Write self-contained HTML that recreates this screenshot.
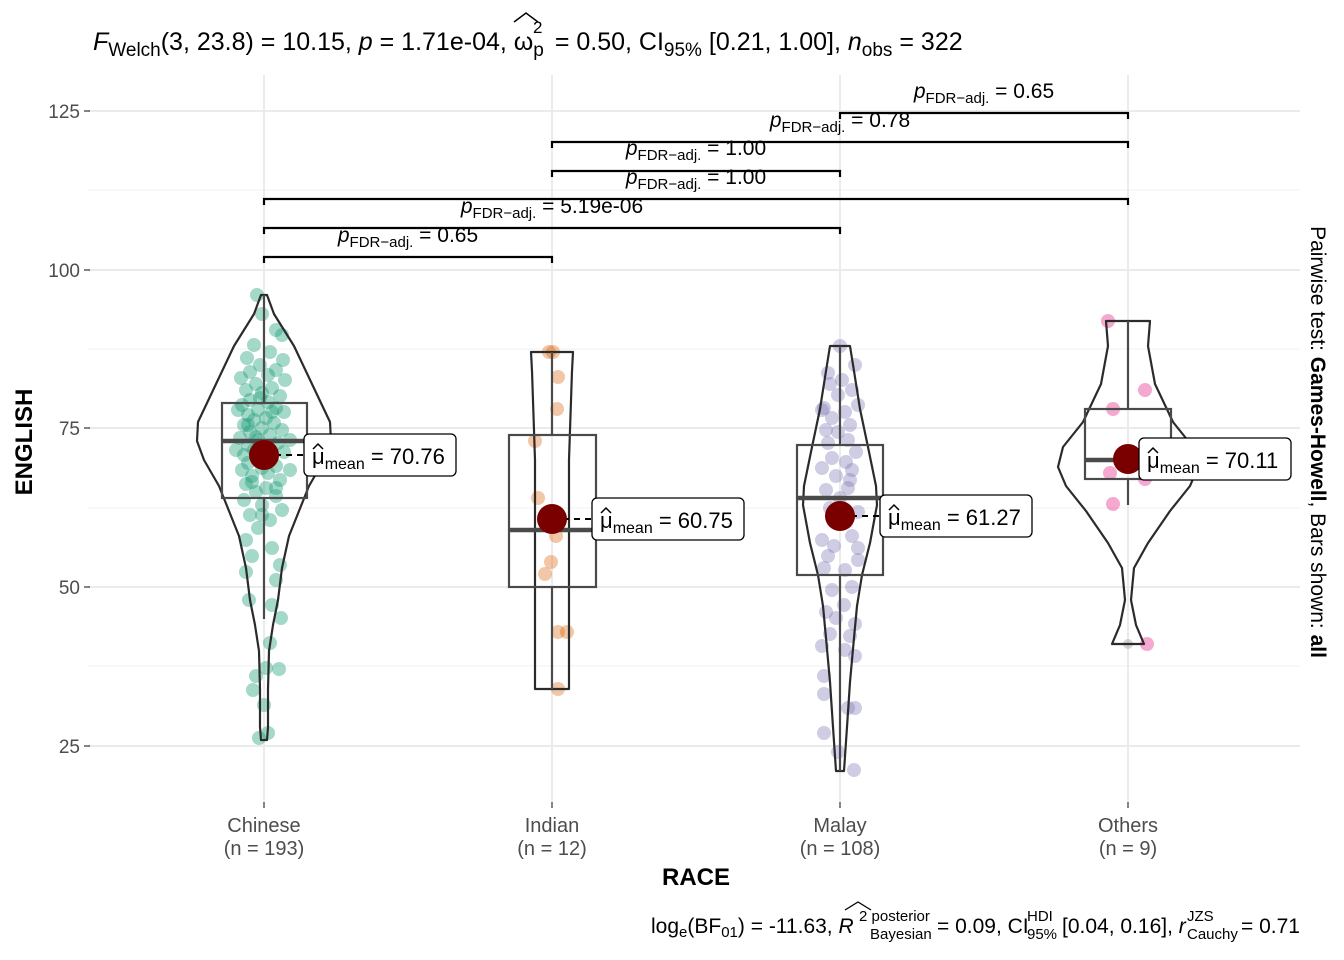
<!DOCTYPE html>
<html><head><meta charset="utf-8"><style>
body{margin:0;background:#fff;}
svg{display:block;font-family:"Liberation Sans",Arial,sans-serif;}
</style></head><body>
<svg width="1344" height="960" xmlns="http://www.w3.org/2000/svg">
<rect width="1344" height="960" fill="#fff"/>
<g stroke="#f0f0f0" stroke-width="1">
<line x1="88" x2="1300" y1="190" y2="190"/><line x1="88" x2="1300" y1="349" y2="349"/><line x1="88" x2="1300" y1="508" y2="508"/><line x1="88" x2="1300" y1="666" y2="666"/>
</g>
<g stroke="#ebebeb" stroke-width="2">
<line x1="88" x2="1300" y1="111" y2="111"/><line x1="88" x2="1300" y1="270" y2="270"/><line x1="88" x2="1300" y1="428" y2="428"/><line x1="88" x2="1300" y1="587" y2="587"/><line x1="88" x2="1300" y1="746" y2="746"/>
<line x1="264" x2="264" y1="75" y2="802"/><line x1="552" x2="552" y1="75" y2="802"/><line x1="840" x2="840" y1="75" y2="802"/><line x1="1128" x2="1128" y1="75" y2="802"/>
</g>
<!-- points -->
<g fill="#1B9E77" fill-opacity="0.4">
<circle cx="257" cy="295" r="7"/><circle cx="262" cy="314" r="7"/><circle cx="276" cy="330" r="7"/><circle cx="282" cy="335" r="7"/><circle cx="254" cy="345" r="7"/><circle cx="270" cy="352" r="7"/><circle cx="247" cy="358" r="7"/><circle cx="283" cy="360" r="7"/><circle cx="260" cy="365" r="7"/><circle cx="276" cy="370" r="7"/><circle cx="250" cy="372" r="7"/><circle cx="268" cy="375" r="7"/><circle cx="241" cy="378" r="7"/><circle cx="285" cy="380" r="7"/><circle cx="256" cy="384" r="7"/><circle cx="272" cy="388" r="7"/><circle cx="246" cy="390" r="7"/><circle cx="262" cy="393" r="7"/><circle cx="280" cy="396" r="7"/><circle cx="250" cy="400" r="7"/><circle cx="268" cy="402" r="7"/><circle cx="242" cy="405" r="7"/><circle cx="276" cy="408" r="7"/><circle cx="258" cy="410" r="7"/><circle cx="284" cy="412" r="7"/><circle cx="248" cy="415" r="7"/><circle cx="266" cy="418" r="7"/><circle cx="254" cy="420" r="7"/><circle cx="274" cy="423" r="7"/><circle cx="244" cy="425" r="7"/><circle cx="262" cy="428" r="7"/><circle cx="282" cy="430" r="7"/><circle cx="250" cy="432" r="7"/><circle cx="270" cy="435" r="7"/><circle cx="240" cy="438" r="7"/><circle cx="258" cy="440" r="7"/><circle cx="278" cy="443" r="7"/><circle cx="248" cy="445" r="7"/><circle cx="266" cy="448" r="7"/><circle cx="254" cy="450" r="7"/><circle cx="284" cy="452" r="7"/><circle cx="244" cy="455" r="7"/><circle cx="272" cy="458" r="7"/><circle cx="258" cy="460" r="7"/><circle cx="248" cy="463" r="7"/><circle cx="276" cy="466" r="7"/><circle cx="262" cy="468" r="7"/><circle cx="242" cy="470" r="7"/><circle cx="268" cy="473" r="7"/><circle cx="252" cy="476" r="7"/><circle cx="280" cy="480" r="7"/><circle cx="246" cy="484" r="7"/><circle cx="266" cy="488" r="7"/><circle cx="256" cy="492" r="7"/><circle cx="276" cy="496" r="7"/><circle cx="244" cy="500" r="7"/><circle cx="262" cy="505" r="7"/><circle cx="282" cy="510" r="7"/><circle cx="250" cy="515" r="7"/><circle cx="270" cy="520" r="7"/><circle cx="258" cy="528" r="7"/><circle cx="246" cy="540" r="7"/><circle cx="272" cy="548" r="7"/><circle cx="252" cy="556" r="7"/><circle cx="280" cy="565" r="7"/><circle cx="246" cy="572" r="7"/><circle cx="276" cy="580" r="7"/><circle cx="249" cy="600" r="7"/><circle cx="272" cy="605" r="7"/><circle cx="281" cy="618" r="7"/><circle cx="270" cy="643" r="7"/><circle cx="266" cy="668" r="7"/><circle cx="279" cy="669" r="7"/><circle cx="256" cy="676" r="7"/><circle cx="253" cy="690" r="7"/><circle cx="264" cy="705" r="7"/><circle cx="268" cy="733" r="7"/><circle cx="259" cy="738" r="7"/><circle cx="236" cy="450" r="7"/><circle cx="290" cy="470" r="7"/><circle cx="238" cy="410" r="7"/><circle cx="290" cy="440" r="7"/>
<circle cx="256" cy="437" r="7"/><circle cx="272" cy="412" r="7"/><circle cx="252" cy="482" r="7"/><circle cx="268" cy="462" r="7"/><circle cx="260" cy="398" r="7"/><circle cx="248" cy="425" r="7"/><circle cx="276" cy="488" r="7"/><circle cx="262" cy="515" r="7"/>
</g>
<g fill="#D95F02" fill-opacity="0.35">
<circle cx="549" cy="352" r="7"/><circle cx="553" cy="352" r="7"/><circle cx="558" cy="377" r="7"/><circle cx="557" cy="409" r="7"/><circle cx="535" cy="441" r="7"/><circle cx="538" cy="498" r="7"/><circle cx="555" cy="517" r="7"/><circle cx="556" cy="536" r="7"/><circle cx="551" cy="562" r="7"/><circle cx="545" cy="574" r="7"/><circle cx="558" cy="632" r="7"/><circle cx="567" cy="632" r="7"/><circle cx="558" cy="689" r="7"/>
</g>
<g fill="#7570B3" fill-opacity="0.35">
<circle cx="840" cy="346" r="7"/><circle cx="855" cy="365" r="7"/><circle cx="828" cy="373" r="7"/><circle cx="830" cy="384" r="7"/><circle cx="852" cy="390" r="7"/><circle cx="838" cy="395" r="7"/><circle cx="824" cy="408" r="7"/><circle cx="858" cy="405" r="7"/><circle cx="845" cy="412" r="7"/><circle cx="832" cy="418" r="7"/><circle cx="822" cy="410" r="7"/><circle cx="850" cy="425" r="7"/><circle cx="838" cy="432" r="7"/><circle cx="828" cy="443" r="7"/><circle cx="848" cy="440" r="7"/><circle cx="856" cy="452" r="7"/><circle cx="832" cy="458" r="7"/><circle cx="846" cy="462" r="7"/><circle cx="822" cy="468" r="7"/><circle cx="852" cy="470" r="7"/><circle cx="836" cy="476" r="7"/><circle cx="826" cy="490" r="7"/><circle cx="848" cy="488" r="7"/><circle cx="840" cy="498" r="7"/><circle cx="830" cy="508" r="7"/><circle cx="858" cy="512" r="7"/><circle cx="846" cy="522" r="7"/><circle cx="822" cy="540" r="7"/><circle cx="834" cy="546" r="7"/><circle cx="852" cy="536" r="7"/><circle cx="858" cy="548" r="7"/><circle cx="828" cy="556" r="7"/><circle cx="858" cy="560" r="7"/><circle cx="824" cy="568" r="7"/><circle cx="845" cy="570" r="7"/><circle cx="832" cy="590" r="7"/><circle cx="852" cy="587" r="7"/><circle cx="826" cy="612" r="7"/><circle cx="844" cy="605" r="7"/><circle cx="836" cy="618" r="7"/><circle cx="855" cy="624" r="7"/><circle cx="830" cy="634" r="7"/><circle cx="850" cy="636" r="7"/><circle cx="822" cy="646" r="7"/><circle cx="845" cy="650" r="7"/><circle cx="855" cy="656" r="7"/><circle cx="824" cy="676" r="7"/><circle cx="824" cy="694" r="7"/><circle cx="848" cy="708" r="7"/><circle cx="855" cy="708" r="7"/><circle cx="824" cy="733" r="7"/><circle cx="838" cy="752" r="7"/><circle cx="854" cy="770" r="7"/><circle cx="842" cy="380" r="7"/><circle cx="826" cy="430" r="7"/><circle cx="850" cy="480" r="7"/><circle cx="836" cy="520" r="7"/>
</g>
<g fill="#E7298A" fill-opacity="0.4">
<circle cx="1108" cy="321" r="7"/><circle cx="1145" cy="390" r="7"/><circle cx="1113" cy="409" r="7"/><circle cx="1130" cy="460" r="7"/><circle cx="1110" cy="473" r="7"/><circle cx="1145" cy="479" r="7"/><circle cx="1113" cy="504" r="7"/><circle cx="1147" cy="644" r="7"/>
</g>
<circle cx="1128" cy="644" r="5" fill="#999" fill-opacity="0.4"/>
<!-- violins -->
<g fill="none" stroke="#2b2b2b" stroke-width="2.2" stroke-linejoin="round">
<polygon points="261,295 254,314 234,346 216,384 198,422 197,441 204,460 219,486 229,511 239,536 246,568 250,600 255,625 259,651 260,689 260,727 261,740 267,740 268,727 268,689 269,651 273,625 278,600 282,568 289,536 299,511 309,486 324,460 331,441 330,422 312,384 294,346 274,314 267,295"/>
<polygon points="531,352 532,371 535,460 535,587 535,689 569,689 569,587 569,460 572,371 573,352"/>
<polygon points="830,346 826,371 820,409 812,447 804,486 803,505 810,543 818,575 823,606 826,638 830,682 833,727 836,771 844,771 847,727 850,682 854,638 857,606 862,575 870,543 877,505 876,486 868,447 860,409 854,371 850,346"/>
<polygon points="1106,321 1108,346 1101,384 1083,422 1063,447 1058,467 1066,486 1086,511 1108,543 1122,568 1125,600 1120,625 1112,644 1144,644 1136,625 1131,600 1134,568 1148,543 1170,511 1190,486 1198,467 1193,447 1173,422 1155,384 1148,346 1150,321"/>
</g>
<!-- boxes -->
<g stroke="#4a4a4a" stroke-width="2.2" fill="none">
<line x1="264" x2="264" y1="403" y2="295"/><line x1="264" x2="264" y1="498" y2="619"/><rect x="222" y="403" width="85" height="95"/>
<line x1="552" x2="552" y1="435" y2="352"/><line x1="552" x2="552" y1="587" y2="689"/><rect x="509" y="435" width="87" height="152"/>
<line x1="840" x2="840" y1="445" y2="346"/><line x1="840" x2="840" y1="575" y2="771"/><rect x="797" y="445" width="86" height="130"/>
<line x1="1128" x2="1128" y1="409" y2="321"/><line x1="1128" x2="1128" y1="479" y2="505"/><rect x="1085" y="409" width="86" height="70"/>
</g>
<g stroke="#4a4a4a" stroke-width="4.5">
<line x1="222" x2="307" y1="441" y2="441"/><line x1="509" x2="596" y1="530" y2="530"/><line x1="797" x2="883" y1="498" y2="498"/><line x1="1085" x2="1171" y1="460" y2="460"/>
</g>
<!-- means -->
<g stroke="#000" stroke-width="2" stroke-dasharray="6,5">
<line x1="264" x2="306" y1="455" y2="455"/><line x1="552" x2="594" y1="519" y2="519"/><line x1="840" x2="882" y1="516" y2="516"/><line x1="1128" x2="1170" y1="459" y2="459"/>
</g>
<g fill="#7a0000">
<circle cx="264" cy="455" r="15"/><circle cx="552" cy="519" r="15"/><circle cx="840" cy="516" r="15"/><circle cx="1128" cy="459" r="15"/>
</g>
<g fill="#fff" stroke="#000" stroke-width="1.3">
<rect x="304" y="434" width="152" height="42" rx="5"/><rect x="592" y="498" width="152" height="42" rx="5"/><rect x="880" y="495" width="152" height="42" rx="5"/><rect x="1139" y="438" width="152" height="42" rx="5"/>
</g>
<g font-size="22">
<text x="312" y="464">μ<tspan font-size="16" dy="5">mean</tspan><tspan dy="-5"> = 70.76</tspan></text>
<text x="600" y="528">μ<tspan font-size="16" dy="5">mean</tspan><tspan dy="-5"> = 60.75</tspan></text>
<text x="888" y="525">μ<tspan font-size="16" dy="5">mean</tspan><tspan dy="-5"> = 61.27</tspan></text>
<text x="1147" y="468">μ<tspan font-size="16" dy="5">mean</tspan><tspan dy="-5"> = 70.11</tspan></text>
</g>
<g fill="none" stroke="#000" stroke-width="1.5">
<path d="M313,449 l5,-5 l5,5"/><path d="M601,513 l5,-5 l5,5"/><path d="M889,510 l5,-5 l5,5"/><path d="M1148,453 l5,-5 l5,5"/>
</g>
<!-- brackets -->
<g fill="none" stroke="#000" stroke-width="2.2">
<path d="M264,263V257H552V263"/><path d="M264,234V228H840V234"/><path d="M264,205V199H1128V205"/><path d="M552,177V171H840V177"/><path d="M552,148V142H1128V148"/><path d="M840,119V113H1128V119"/>
</g>
<g font-size="21" text-anchor="middle">
<text x="408" y="242"><tspan font-style="italic">p</tspan><tspan font-size="15" dy="5">FDR−adj.</tspan><tspan dy="-5"> = 0.65</tspan></text>
<text x="552" y="213"><tspan font-style="italic">p</tspan><tspan font-size="15" dy="5">FDR−adj.</tspan><tspan dy="-5"> = 5.19e-06</tspan></text>
<text x="696" y="184"><tspan font-style="italic">p</tspan><tspan font-size="15" dy="5">FDR−adj.</tspan><tspan dy="-5"> = 1.00</tspan></text>
<text x="696" y="155"><tspan font-style="italic">p</tspan><tspan font-size="15" dy="5">FDR−adj.</tspan><tspan dy="-5"> = 1.00</tspan></text>
<text x="840" y="127"><tspan font-style="italic">p</tspan><tspan font-size="15" dy="5">FDR−adj.</tspan><tspan dy="-5"> = 0.78</tspan></text>
<text x="984" y="98"><tspan font-style="italic">p</tspan><tspan font-size="15" dy="5">FDR−adj.</tspan><tspan dy="-5"> = 0.65</tspan></text>
</g>
<!-- axes -->
<g fill="#4d4d4d" font-size="19" text-anchor="end">
<text x="80" y="118">125</text><text x="80" y="277">100</text><text x="80" y="435">75</text><text x="80" y="594">50</text><text x="80" y="753">25</text>
</g>
<g stroke="#333" stroke-width="1.2">
<line x1="84" x2="90" y1="111" y2="111"/><line x1="84" x2="90" y1="270" y2="270"/><line x1="84" x2="90" y1="428" y2="428"/><line x1="84" x2="90" y1="587" y2="587"/><line x1="84" x2="90" y1="746" y2="746"/>
<line x1="264" x2="264" y1="802" y2="808"/><line x1="552" x2="552" y1="802" y2="808"/><line x1="840" x2="840" y1="802" y2="808"/><line x1="1128" x2="1128" y1="802" y2="808"/>
</g>
<g fill="#4d4d4d" font-size="20" text-anchor="middle">
<text x="264" y="832">Chinese</text><text x="264" y="855">(n = 193)</text>
<text x="552" y="832">Indian</text><text x="552" y="855">(n = 12)</text>
<text x="840" y="832">Malay</text><text x="840" y="855">(n = 108)</text>
<text x="1128" y="832">Others</text><text x="1128" y="855">(n = 9)</text>
</g>
<text x="696" y="885" text-anchor="middle" font-size="24" font-weight="bold">RACE</text>
<text transform="translate(32,442) rotate(-90)" text-anchor="middle" font-size="24" font-weight="bold">ENGLISH</text>
<text transform="translate(1311,442) rotate(90)" text-anchor="middle" font-size="21">Pairwise test: <tspan font-weight="bold">Games-Howell</tspan>, Bars shown: <tspan font-weight="bold">all</tspan></text>
<text x="93" y="50" font-size="25"><tspan font-style="italic">F</tspan><tspan font-size="19" dy="6">Welch</tspan><tspan dy="-6">(3, 23.8) = 10.15, </tspan><tspan font-style="italic">p</tspan> = 1.71e-04, ω<tspan font-size="19" dy="6">p</tspan><tspan dy="-6" dx="4"> = 0.50, CI</tspan><tspan font-size="19" dy="6">95%</tspan><tspan dy="-6"> [0.21, 1.00], </tspan><tspan font-style="italic">n</tspan><tspan font-size="19" dy="6">obs</tspan><tspan dy="-6"> = 322</tspan></text>
<text x="533" y="33" font-size="17">2</text>
<path d="M514,22 L526,13 L538,22" fill="none" stroke="#000" stroke-width="1.5"/>
<!-- bottom caption -->
<g font-size="21">
<text x="651" y="933">log<tspan font-size="15" dy="4">e</tspan><tspan dy="-4">(BF</tspan><tspan font-size="15" dy="4">01</tspan><tspan dy="-4">) = -11.63, </tspan><tspan font-style="italic">R</tspan></text>
<text x="859" y="921" font-size="15">2 posterior</text>
<text x="870" y="939" font-size="15">Bayesian</text>
<text x="937" y="933">= 0.09, CI</text>
<text x="1027" y="921" font-size="15">HDI</text>
<text x="1027" y="939" font-size="15">95%</text>
<text x="1062" y="933">[0.04, 0.16], <tspan font-style="italic">r</tspan></text>
<text x="1187" y="921" font-size="15">JZS</text>
<text x="1187" y="939" font-size="15">Cauchy</text>
<text x="1241" y="933">= 0.71</text>
</g>
<path d="M845,910 L858,902 L871,910" fill="none" stroke="#000" stroke-width="1.3"/>
</svg>
</body></html>
